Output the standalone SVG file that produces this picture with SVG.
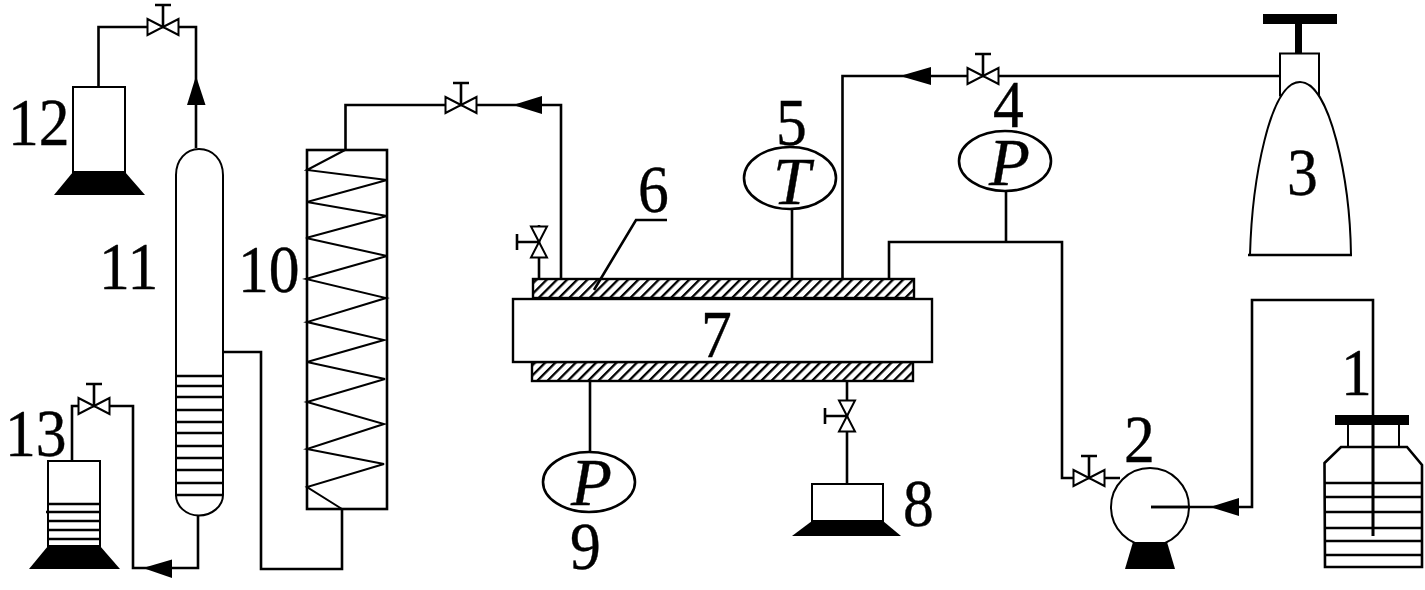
<svg xmlns="http://www.w3.org/2000/svg" width="1425" height="590" viewBox="0 0 1425 590">
<style>
.l{fill:none;stroke:#000;stroke-width:2.6}
.t{fill:none;stroke:#000;stroke-width:2}
.w{fill:#fff;stroke:#000;stroke-width:2}
.k{fill:#000;stroke:none}
.n{font-family:"Liberation Serif","Times New Roman",serif;font-size:67px;fill:#000;stroke:#000;stroke-width:.4}
.i{font-style:italic}
</style>
<defs>
<pattern id="hatch" width="7.2" height="7.2" patternUnits="userSpaceOnUse" patternTransform="rotate(45)">
<rect x="0" y="0" width="2.3" height="7.2" fill="#000"/>
</pattern>
<g id="valve">
<path class="w" d="M0 0L-15.500 -8V8ZM0 0L15.500 -8V8Z"/>
<path class="l" d="M0 0V-22M-8 -22H8"/>
</g>
</defs>
<rect width="1425" height="590" fill="#fff"/>
<g id="connectors">
<path class="l" d="M98.500 87V27H196V148"/>
<path class="l" d="M198 516V568H133V406H72V461"/>
<path class="l" d="M223 352H261V569H342V509"/>
<path class="l" d="M345.500 150V105H561V279"/>
<path class="l" d="M792 279V209"/>
<path class="l" d="M842.500 279V76H1280"/>
<path class="l" d="M889 279V242H1062V478H1120"/>
<path class="l" d="M1006 191V242"/>
<path class="l" d="M539 279V225"/>
<path class="l" d="M590 381V452"/>
<path class="l" d="M847 381V484"/>
<path class="l" d="M1151 507H1252V300H1373V536"/>
<polygon class="k" points="196,76 187,105 205.500,105"/>
<polygon class="k" points="143,568 172,559.500 172,578"/>
<polygon class="k" points="513,105 542,96 542,114"/>
<polygon class="k" points="900,76 931,67 931,85"/>
<polygon class="k" points="1210,507 1239,498 1239,516"/>
<use href="#valve" transform="translate(163,27)"/>
<use href="#valve" transform="translate(94,406)"/>
<use href="#valve" transform="translate(461,105)"/>
<use href="#valve" transform="translate(983,76)"/>
<use href="#valve" transform="translate(1089,478)"/>
<use href="#valve" transform="translate(539,242) rotate(-90)"/>
<use href="#valve" transform="translate(847,416) rotate(-90)"/>
<path class="l" d="M594 290L636 220H667"/>
</g>
<g id="node-1">
<rect class="k" x="1335" y="415" width="74" height="10"/>
<path class="t" d="M1348 425V447M1399 425V447"/>
<path class="l" d="M1324.500 463L1341 447H1407L1422 465V567H1325Z"/>
<path class="l" d="M1324 483H1422M1325 497H1422M1325 512H1422M1325 528H1422M1325 541H1422M1325 555H1422"/>
<path class="l" d="M1373 415V536"/>
<text class="n" transform="translate(1341,395) scale(.92,1)">1</text>
</g>
<g id="node-2">
<circle class="t" cx="1150" cy="507" r="39"/>
<path class="l" d="M1151 507H1189"/>
<polygon class="k" points="1133,542 1167,542 1175,569 1125,569"/>
<text class="n" transform="translate(1124,462) scale(.92,1)">2</text>
</g>
<g id="node-3">
<rect class="k" x="1263" y="14" width="74" height="10"/>
<rect class="k" x="1295" y="24" width="7" height="30"/>
<rect class="w" x="1280" y="53.500" width="39" height="42"/>
<path class="w" d="M1250 255C1252 180 1270 82 1300 82C1330 82 1350 180 1351 255Z"/>
<path class="l" d="M1248 255H1352"/>
<text class="n" transform="translate(1287,195) scale(.92,1)">3</text>
</g>
<g id="node-4">
<ellipse class="l" cx="1005" cy="161" rx="46" ry="30"/>
<text class="n i" x="989" y="185">P</text>
<text class="n" transform="translate(993,127) scale(.92,1)">4</text>
</g>
<g id="node-5">
<ellipse class="l" cx="790" cy="178" rx="46" ry="31"/>
<text class="n i" x="773" y="204">T</text>
<text class="n" transform="translate(776,145) scale(.92,1)">5</text>
</g>
<g id="node-6">
<rect x="533" y="279" width="381" height="19" fill="url(#hatch)" stroke="#000" stroke-width="2.4"/>
<rect x="532" y="362" width="381" height="19" fill="url(#hatch)" stroke="#000" stroke-width="2.4"/>
<text class="n" transform="translate(638,212) scale(.92,1)">6</text>
</g>
<g id="node-7">
<rect class="w" x="513" y="299" width="419" height="63" style="stroke-width:2.4"/>
<text class="n" transform="translate(701,357) scale(.92,1)">7</text>
</g>
<g id="node-8">
<rect class="w" x="812" y="484" width="71" height="37"/>
<polygon class="k" points="812,521 883,521 901,536 792,536"/>
<text class="n" transform="translate(903,526) scale(.92,1)">8</text>
</g>
<g id="node-9">
<ellipse class="l" cx="589" cy="482" rx="46" ry="30"/>
<text class="n i" x="571" y="505">P</text>
<text class="n" transform="translate(570,569) scale(.92,1)">9</text>
</g>
<g id="node-10">
<rect class="l" x="307" y="150" width="80" height="359"/>
<path class="t" d="M345 150L307 170L387 180L307 202L387 216L306 238L387 256L306 279L386 298L307 322L384 340L307 362L385 379L307 402L384 424L307 449L384 464L307 487L342 509"/>
<text class="n" transform="translate(238,292) scale(.92,1)">10</text>
</g>
<g id="node-11">
<path class="t" d="M176 175C176 160 186 149 199 149C213 149 223 160 223 175V495C223 506 212 515.500 199 515.500C186 515.500 176 506 176 495Z"/>
<path class="l" d="M175 376H223M175 386H223M175 397H223M175 410H223M175 422H223M175 433H223M175 446H223M175 458H223M175 470H223M175 483H223M175 495H223"/>
<text class="n" transform="translate(99,289) scale(.92,1)">11</text>
</g>
<g id="node-12">
<rect class="t" x="73" y="87" width="52" height="85"/>
<polygon class="k" points="73,172 125,172 145,195 54,195"/>
<text class="n" transform="translate(8,145) scale(.92,1)">12</text>
</g>
<g id="node-13">
<rect class="t" x="48" y="461" width="52" height="85"/>
<path class="l" d="M48 504H100M46 512H101M47 521H101M47 530H101M47 539H101"/>
<polygon class="k" points="48,546 100,546 120,569 29,569"/>
<text class="n" transform="translate(5,456) scale(.92,1)">13</text>
</g>
</svg>
